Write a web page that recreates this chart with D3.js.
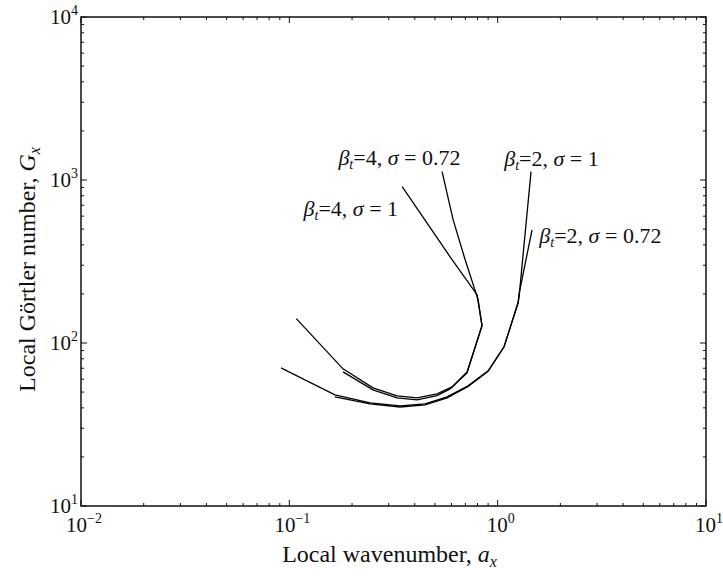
<!DOCTYPE html>
<html>
<head>
<meta charset="utf-8">
<script src="https://cdn.jsdelivr.net/npm/d3@7"></script>
<style>
  body { margin: 0; background: #fff; }
  svg { display: block; }
  text { font-family: "Liberation Serif", "Times New Roman", serif; fill: #111; }
</style>
</head>
<body>
<svg id="chart" width="723" height="578"></svg>
<script>
// Axis ranges (log-log) and decade exponents for the tick labels
const xDomain = [0.01, 10];
const yDomain = [10, 10000];
const xTickExps = [-2, -1, 0, 1];
const yTickExps = [1, 2, 3, 4];

// Neutral-stability curves: [local wavenumber a_x, local Görtler number G_x]
const beta4Sigma1 = [
  [0.108, 141], [0.181, 69.4], [0.252, 53.1], [0.329, 47.4], [0.410, 46.1],
  [0.512, 48.7], [0.604, 53.8], [0.713, 66.5], [0.841, 127.6], [0.796, 198],
  [0.591, 338], [0.348, 910]
];
const beta4Sigma072 = [
  [0.181, 66.5], [0.252, 51.6], [0.329, 46.1], [0.410, 44.8], [0.512, 47.6],
  [0.591, 52.3], [0.713, 65.6], [0.841, 127.6], [0.806, 184], [0.698, 324],
  [0.611, 571], [0.541, 1126]
];
const beta2Sigma1 = [
  [0.0912, 70.4], [0.1655, 48.1], [0.244, 42.9], [0.340, 41.1], [0.448, 42.3],
  [0.572, 46.7], [0.721, 54.6], [0.900, 67.5], [1.073, 94.8], [1.253, 176.6],
  [1.267, 192], [1.446, 1126]
];
const beta2Sigma072 = [
  [0.1655, 46.7], [0.244, 42.3], [0.340, 40.5], [0.448, 41.7], [0.572, 46.1],
  [0.721, 54.2], [0.900, 67.0], [1.073, 94.8], [1.253, 176.6], [1.267, 200],
  [1.462, 495]
];
const curves = [beta4Sigma1, beta4Sigma072, beta2Sigma1, beta2Sigma072];

// Curve labels: beta_t value, sigma value, anchor [a_x, G_x] of text start
const labelBeta = ["4", "4", "2", "2"];
const labelSigma = ["0.72", "1", "1", "0.72"];
const labelAnchors = [[0.172, 1243], [0.117, 604], [1.075, 1226], [1.585, 413]];

const svg = d3.select("#chart");
const margin = { left: 81, right: 17, top: 17, bottom: 72 };
const W = 723, H = 578;

const x = d3.scaleLog().domain(xDomain).range([margin.left, W - margin.right]);
const y = d3.scaleLog().domain(yDomain).range([H - margin.bottom, margin.top]);

// Tick positions: all 1..9 multiples per decade
function logTicks(domain) {
  const out = [];
  const e0 = Math.round(Math.log10(domain[0])), e1 = Math.round(Math.log10(domain[1]));
  for (let e = e0; e <= e1; e++) {
    for (let m = 1; m <= 9; m++) {
      const v = m * Math.pow(10, e);
      if (v <= domain[1] * 1.0001) out.push({ v, major: m === 1 });
    }
  }
  return out;
}
const xt = logTicks(xDomain), yt = logTicks(yDomain);
const majorLen = 6, minorLen = 3;
const x0 = x.range()[0], x1 = x.range()[1], y0 = y.range()[0], y1 = y.range()[1];

const ticks = svg.append("g").attr("stroke", "#111").attr("stroke-width", 1);
xt.forEach(t => {
  const len = t.major ? majorLen : minorLen, px = x(t.v);
  ticks.append("line").attr("x1", px).attr("x2", px).attr("y1", y0).attr("y2", y0 - len);
  ticks.append("line").attr("x1", px).attr("x2", px).attr("y1", y1).attr("y2", y1 + len);
});
yt.forEach(t => {
  const len = t.major ? majorLen : minorLen, py = y(t.v);
  ticks.append("line").attr("x1", x0).attr("x2", x0 + len).attr("y1", py).attr("y2", py);
  ticks.append("line").attr("x1", x1).attr("x2", x1 - len).attr("y1", py).attr("y2", py);
});

// Frame
svg.append("rect")
  .attr("x", x0).attr("y", y1).attr("width", x1 - x0).attr("height", y0 - y1)
  .attr("fill", "none").attr("stroke", "#111").attr("stroke-width", 1.5);

// Tick labels: 10 with superscript exponent
function powerLabel(sel, exp) {
  sel.append("tspan").text("10");
  sel.append("tspan").attr("dy", -9).attr("font-size", 14)
    .text(exp < 0 ? "\u2212" + (-exp) : String(exp));
}
xTickExps.forEach(e => {
  const t = svg.append("text").attr("x", x(Math.pow(10, e)) + 3).attr("y", y0 + 26)
    .attr("text-anchor", "middle").attr("font-size", 21);
  powerLabel(t, e);
});
yTickExps.forEach(e => {
  const t = svg.append("text").attr("x", x0 - 3).attr("y", y(Math.pow(10, e)) + 7)
    .attr("text-anchor", "end").attr("font-size", 21);
  powerLabel(t, e);
});

// Axis titles
const xTitle = svg.append("text").attr("x", (x0 + x1) / 2 - 4).attr("y", H - 16)
  .attr("text-anchor", "middle").attr("font-size", 24);
xTitle.append("tspan").text("Local wavenumber, ");
xTitle.append("tspan").attr("font-style", "italic").text("a");
xTitle.append("tspan").attr("font-style", "italic").attr("font-size", 16).attr("dy", 5).text("x");

const yTitle = svg.append("text")
  .attr("transform", `translate(35,${(y0 + y1) / 2 + 8}) rotate(-90)`)
  .attr("text-anchor", "middle").attr("font-size", 24);
yTitle.append("tspan").text("Local G\u00f6rtler number, ");
yTitle.append("tspan").attr("font-style", "italic").text("G");
yTitle.append("tspan").attr("font-style", "italic").attr("font-size", 16).attr("dy", 5).text("x");

// Curves
const line = d3.line().x(d => x(d[0])).y(d => y(d[1]));
svg.append("g").selectAll("path").data(curves).join("path")
  .attr("d", line).attr("fill", "none").attr("stroke", "#000")
  .attr("stroke-width", 1.3).attr("stroke-linejoin", "miter");

// Curve labels
labelAnchors.forEach((p, i) => {
  const t = svg.append("text").attr("x", x(p[0])).attr("y", y(p[1])).attr("font-size", 22);
  t.append("tspan").attr("font-style", "italic").text("\u03b2");
  t.append("tspan").attr("font-style", "italic").attr("font-size", 14).attr("dy", 4).text("t");
  t.append("tspan").attr("dy", -4).text("=" + labelBeta[i] + ", ");
  t.append("tspan").attr("font-style", "italic").text("\u03c3");
  t.append("tspan").text(" = " + labelSigma[i]);
});
</script>
</body>
</html>
